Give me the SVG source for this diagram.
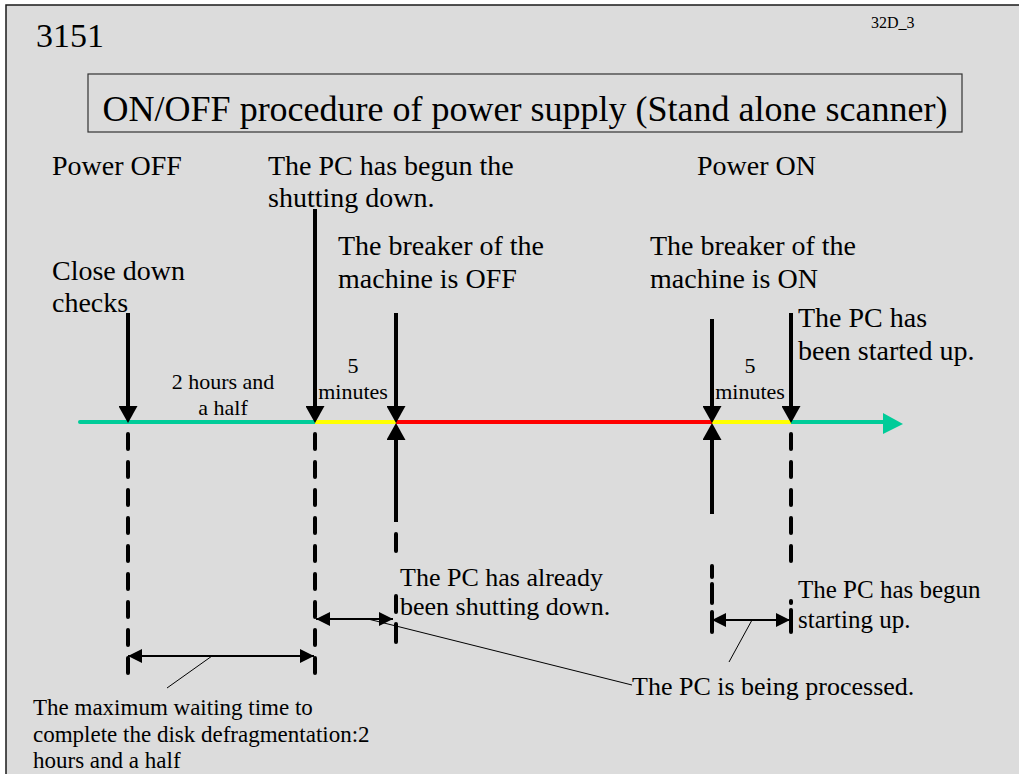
<svg xmlns="http://www.w3.org/2000/svg" width="1019" height="774" viewBox="0 0 1019 774">
  <style>
    text { font-family: "Liberation Serif", "Times New Roman", serif; fill: #000; }
    .lg { font-size: 28px; }
    .md { font-size: 26px; }
    .sm { font-size: 22px; }
    .ft { font-size: 23px; }
    .mid { text-anchor: middle; }
    .shaft { stroke: #000; stroke-width: 4; fill: none; }
    .dash { stroke: #000; stroke-width: 4; fill: none; stroke-dasharray: 15 13; stroke-linecap: round; }
    .seg { stroke: #000; stroke-width: 4; fill: none; stroke-linecap: round; }
    .span { stroke: #000; stroke-width: 2; fill: none; }
    .leader { stroke: #000; stroke-width: 1; fill: none; }
    .tl { stroke-width: 4; fill: none; }
  </style>
  <defs>
    <marker id="head" viewBox="0 0 17 19" refX="0" refY="9.5" markerWidth="17" markerHeight="19" markerUnits="userSpaceOnUse" orient="auto">
      <path d="M0,0 L17,9.5 L0,19 z" fill="#000"/>
    </marker>
    <marker id="tip" viewBox="0 0 14 14" refX="14" refY="7" markerWidth="14" markerHeight="14" markerUnits="userSpaceOnUse" orient="auto-start-reverse">
      <path d="M0,0 L14,7 L0,14 z" fill="#000"/>
    </marker>
  </defs>

  <!-- page -->
  <rect x="0" y="0" width="1019" height="774" fill="#fff"/>
  <rect x="6" y="5" width="1030" height="790" fill="#dcdcdc" stroke="#1a1a1a" stroke-width="1.5"/>

  <g id="page-number"><text x="36" y="47" style="font-size:34px">3151</text></g>
  <g id="sheet-code"><text x="871" y="28" style="font-size:16px">32D_3</text></g>

  <g id="title">
    <rect x="88" y="74" width="874" height="58" fill="none" stroke="#333" stroke-width="1.2"/>
    <text x="525" y="121" class="mid" style="font-size:36px">ON/OFF procedure of power supply (Stand alone scanner)</text>
  </g>

  <!-- connectors: time axis, event arrows, guide lines, spans and leaders -->
  <g id="connectors">
    <line class="tl" x1="80" y1="422" x2="315" y2="422" stroke="#00cc99" stroke-linecap="round"/>
    <line class="tl" x1="315" y1="422" x2="396" y2="422" stroke="#ffff00"/>
    <line class="tl" x1="396" y1="422" x2="712" y2="422" stroke="#ff0000"/>
    <line class="tl" x1="712" y1="422" x2="791" y2="422" stroke="#ffff00"/>
    <line class="tl" x1="791" y1="422" x2="886" y2="422" stroke="#00cc99"/>
    <polygon points="883,413 903,424 883,434" fill="#00cc99"/>

    <!-- down arrows onto the axis -->
    <line class="shaft" x1="128" y1="313" x2="128" y2="406" marker-end="url(#head)"/>
    <line class="shaft" x1="315" y1="209" x2="315" y2="406" marker-end="url(#head)"/>
    <line class="shaft" x1="396" y1="313" x2="396" y2="406" marker-end="url(#head)"/>
    <line class="shaft" x1="712" y1="319" x2="712" y2="406" marker-end="url(#head)"/>
    <line class="shaft" x1="791" y1="313" x2="791" y2="406" marker-end="url(#head)"/>

    <!-- up arrows onto the axis -->
    <line class="shaft" x1="396" y1="522" x2="396" y2="440" marker-end="url(#head)"/>
    <line class="shaft" x1="712" y1="514" x2="712" y2="440" marker-end="url(#head)"/>

    <!-- guide lines below the axis -->
    <line class="dash" x1="128" y1="434" x2="128" y2="683"/>
    <line class="dash" x1="315" y1="434" x2="315" y2="683"/>
    <path class="seg" d="M396,534 V551 M396,596 V612 M396,624 V642"/>
    <path class="seg" d="M712,566 V577 M712,584 V603 M712,612 V632"/>
    <line class="dash" x1="791" y1="434" x2="791" y2="566"/>
    <path class="seg" d="M791,601 V603 M791,610 V632"/>

    <!-- time spans -->
    <line class="span" x1="128" y1="656" x2="314" y2="656" marker-start="url(#tip)" marker-end="url(#tip)"/>
    <line class="span" x1="316" y1="619" x2="393" y2="619" marker-start="url(#tip)" marker-end="url(#tip)"/>
    <line class="span" x1="712" y1="620" x2="790" y2="620" marker-start="url(#tip)" marker-end="url(#tip)"/>

    <!-- leaders -->
    <line class="leader" x1="212" y1="656" x2="167" y2="688"/>
    <line class="leader" x1="368" y1="619" x2="632" y2="685"/>
    <line class="leader" x1="752" y1="620" x2="729" y2="662"/>
  </g>

  <g id="power-off"><text x="52" y="175" class="lg">Power OFF</text></g>
  <g id="pc-shutdown-begun">
    <text x="268" y="175" class="lg">The PC has begun the</text>
    <text x="268" y="207" class="lg">shutting down.</text>
  </g>
  <g id="power-on"><text x="697" y="175" class="lg">Power ON</text></g>
  <g id="close-down-checks">
    <text x="52" y="280" class="lg">Close down</text>
    <text x="52" y="312" class="lg">checks</text>
  </g>
  <g id="breaker-off">
    <text x="338" y="255" class="lg">The breaker of the</text>
    <text x="338" y="288" class="lg">machine is OFF</text>
  </g>
  <g id="breaker-on">
    <text x="650" y="255" class="lg">The breaker of the</text>
    <text x="650" y="288" class="lg">machine is ON</text>
  </g>
  <g id="pc-started">
    <text x="798" y="327" class="lg">The PC has</text>
    <text x="798" y="360" class="lg">been started up.</text>
  </g>
  <g id="span-defrag">
    <text x="223" y="389" class="sm mid">2 hours and</text>
    <text x="223" y="415" class="sm mid">a half</text>
  </g>
  <g id="span-off-5min">
    <text x="353" y="373" class="sm mid">5</text>
    <text x="353" y="399" class="sm mid">minutes</text>
  </g>
  <g id="span-on-5min">
    <text x="750" y="373" class="sm mid">5</text>
    <text x="750" y="399" class="sm mid">minutes</text>
  </g>
  <g id="pc-shut-down">
    <text x="400" y="586" class="md">The PC has already</text>
    <text x="400" y="615" class="md">been shutting down.</text>
  </g>
  <g id="pc-startup-begun">
    <text x="798" y="598" style="font-size:25px">The PC has begun</text>
    <text x="798" y="628" style="font-size:25px">starting up.</text>
  </g>
  <g id="pc-processing"><text x="632" y="695" class="md">The PC is being processed.</text></g>
  <g id="defrag-note">
    <text x="33" y="715" class="ft">The maximum waiting time to</text>
    <text x="33" y="742" class="ft">complete the disk defragmentation:2</text>
    <text x="33" y="768" class="ft">hours and a half</text>
  </g>
</svg>
